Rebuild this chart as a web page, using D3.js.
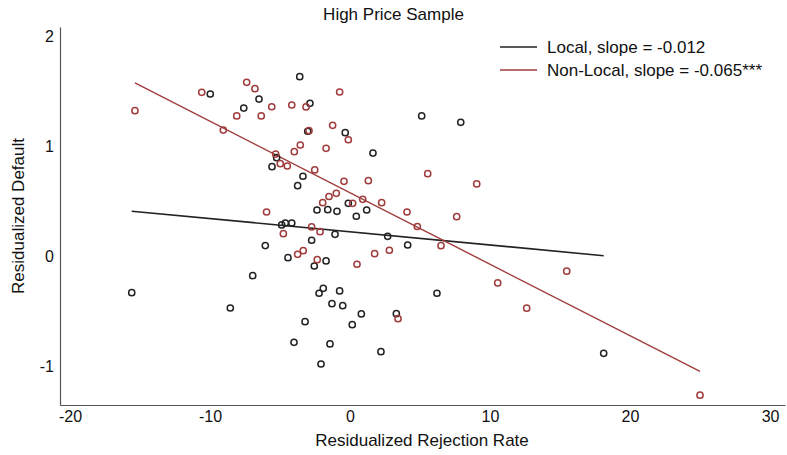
<!DOCTYPE html>
<html>
<head>
<meta charset="utf-8">
<script src="https://cdn.jsdelivr.net/npm/d3@7"></script>
<style>
  html, body { margin: 0; padding: 0; background: #fff; }
  svg text { font-family: "Liberation Sans", Arial, sans-serif; fill: #111; }
</style>
</head>
<body>
<svg id="chart" width="787" height="455"></svg>
<script>
// Local lenders: residualized rejection rate (x) vs residualized default (y)
const localX = [-15.59, -9.98, -6.5, -7.59, -3.59, -2.86, -3.02, -0.34, 1.64, 5.12, 7.91,
  -5.24, -5.57, -3.36, -3.74, -0.12, -2.36, -1.59, -0.93, 1.19, 0.45, -4.88, -4.62, -4.16,
  -1.07, 2.69, 4.12, -6.05, -2.74, -4.43, -1.71, -2.55, -6.95, -8.55, -1.91, -2.21, -0.74,
  -1.29, -0.52, 0.81, 3.31, -3.21, 0.16, -4.0, -1.43, 2.21, -2.07, 6.21, 18.12];
const localY = [-0.334, 1.473, 1.427, 1.345, 1.630, 1.388, 1.134, 1.121, 0.936, 1.273, 1.215,
  0.894, 0.812, 0.725, 0.639, 0.479, 0.418, 0.421, 0.406, 0.418, 0.361, 0.282, 0.300, 0.300,
  0.197, 0.179, 0.100, 0.095, 0.143, -0.015, -0.045, -0.091, -0.179, -0.473, -0.294, -0.339, -0.318,
  -0.434, -0.452, -0.527, -0.525, -0.597, -0.625, -0.785, -0.800, -0.870, -0.982, -0.339, -0.885];

// Non-local lenders
const nonLocalX = [-15.36, -10.59, -7.38, -6.79, -8.09, -6.34, -9.05, -5.59, -4.16, -3.14,
  -0.74, -1.24, -2.93, -0.12, -3.55, -3.98, -1.71, -5.31, -4.98, -4.48, -2.52, -0.43, 1.31,
  5.55, 9.05, -1.5, -0.98, -1.95, 0.19, 0.91, 2.26, 4.07, -5.96, 4.81, 7.62, 6.5, -4.76,
  -2.74, -2.14, -3.74, -3.34, 1.76, 2.81, -2.34, 0.5, 3.43, 15.48, 10.55, 12.62, 25.0];
const nonLocalY = [1.321, 1.488, 1.579, 1.521, 1.273, 1.273, 1.145, 1.357, 1.373, 1.355,
  1.491, 1.188, 1.139, 1.057, 1.009, 0.948, 0.979, 0.927, 0.839, 0.818, 0.782, 0.679, 0.685,
  0.748, 0.655, 0.541, 0.570, 0.485, 0.479, 0.515, 0.485, 0.400, 0.400, 0.268, 0.357, 0.094, 0.203,
  0.264, 0.221, 0.015, 0.048, 0.021, 0.052, -0.034, -0.075, -0.570, -0.138, -0.245, -0.475, -1.266];

// Fitted lines (slopes as reported in the legend)
const fitIntercepts = [0.22, 0.575];
const fitSlopes = [-0.012, -0.065];
const seriesNames = ["Local, slope = -0.012", "Non-Local, slope = -0.065***"];
const seriesColors = ["#222222", "#a03c3c"];

const xTicks = [-20, -10, 0, 10, 20, 30];
const yTicks = [-1, 0, 1, 2];

const svg = d3.select("#chart");
const W = 787, H = 455;
const m = { left: 60, right: 2, top: 27, bottom: 50 };

const x = d3.scaleLinear().domain([-20.714, 31.07]).range([m.left, W - m.right]);
const y = d3.scaleLinear().domain([-1.355, 2.082]).range([H - m.bottom, m.top]);

// Axes: plain lines, labels only, hyphen-minus labels
const fmt = d => String(d);
const xAxis = d3.axisBottom(x).tickValues(xTicks).tickFormat(fmt).tickSize(0).tickPadding(6);
const yAxis = d3.axisLeft(y).tickValues(yTicks).tickFormat(fmt).tickSize(0).tickPadding(6);

const gx = svg.append("g").attr("transform", `translate(0,${H - m.bottom})`).call(xAxis);
const gy = svg.append("g").attr("transform", `translate(${m.left},0)`).call(yAxis);
[gx, gy].forEach(g => {
  g.select(".domain").attr("stroke", "#555").attr("stroke-width", 1.2);
  g.selectAll("text").attr("font-size", 16).attr("fill", "#111")
    .attr("font-family", "'Liberation Sans', Arial, sans-serif");
});

// Title and axis titles
svg.append("text").attr("x", 393.5).attr("y", 20).attr("text-anchor", "middle")
  .attr("font-size", 17).text("High Price Sample");
svg.append("text").attr("x", 422).attr("y", 446).attr("text-anchor", "middle")
  .attr("font-size", 17).text("Residualized Rejection Rate");
svg.append("text").attr("transform", "translate(24,216) rotate(-90)")
  .attr("text-anchor", "middle").attr("font-size", 17).text("Residualized Default");

// Scatter points
const series = [
  d3.zip(localX, localY),
  d3.zip(nonLocalX, nonLocalY)
];

// Fit lines across each series' x range
series.forEach((pts, i) => {
  const ext = d3.extent(pts, d => d[0]);
  const line = d3.line().x(d => x(d)).y(d => y(fitIntercepts[i] + fitSlopes[i] * d));
  svg.append("path").datum(ext).attr("d", line)
    .attr("fill", "none").attr("stroke", seriesColors[i])
    .attr("stroke-width", i === 0 ? 1.6 : 1.4);
});

series.forEach((pts, i) => {
  svg.append("g").selectAll("circle").data(pts).join("circle")
    .attr("cx", d => x(d[0])).attr("cy", d => y(d[1])).attr("r", 3.1)
    .attr("fill", "none").attr("stroke", seriesColors[i]).attr("stroke-width", 1.5);
});

// Legend
const lg = svg.append("g");
seriesNames.forEach((name, i) => {
  const yy = 47 + i * 23;
  lg.append("line").attr("x1", 500).attr("x2", 537).attr("y1", yy).attr("y2", yy)
    .attr("stroke", seriesColors[i]).attr("stroke-width", 1.5);
  lg.append("text").attr("x", 547).attr("y", yy + 6).attr("font-size", 17).text(name);
});
</script>
</body>
</html>
